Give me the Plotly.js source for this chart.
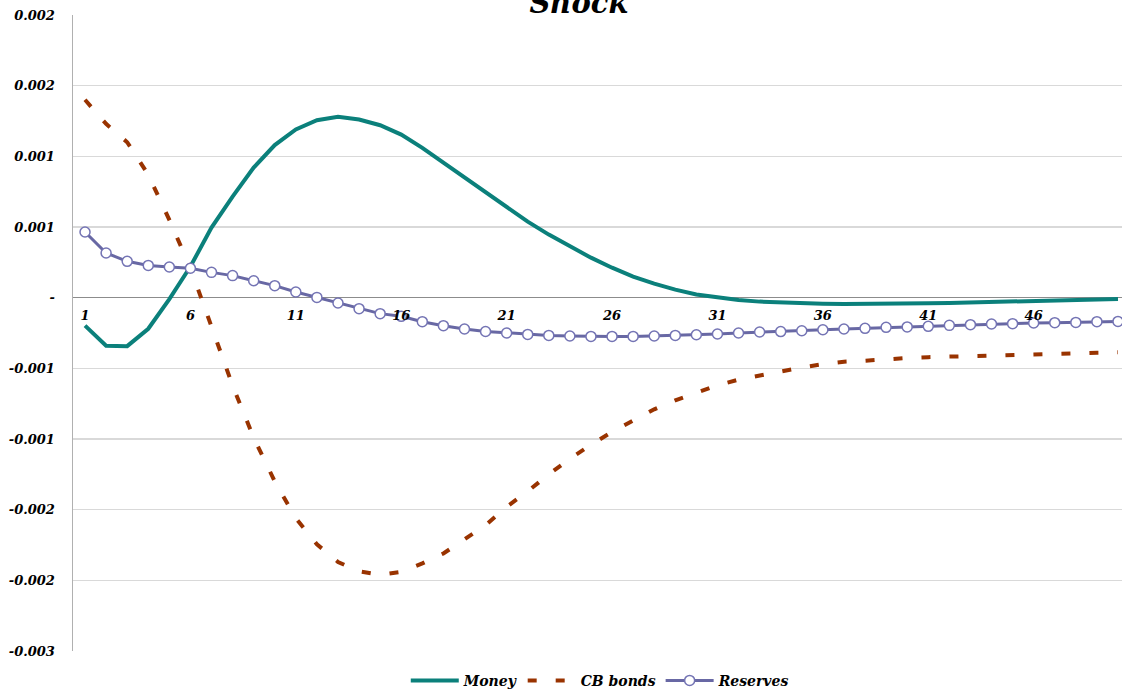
<!DOCTYPE html>
<html>
<head>
<meta charset="utf-8">
<script src="https://cdn.plot.ly/plotly-3.0.1.min.js"></script>
<style>html,body{margin:0;padding:0;background:#fff;}#chart{width:1122px;height:694px;}</style>
</head>
<body>
<div id="chart"></div>
<script>
const periods = Array.from({length: 50}, (_, i) => i + 1);

const money = [
  -0.000198, -0.00034, -0.000343, -0.00022, -0.00001, 0.00022, 0.000496, 0.000715, 0.00092, 0.00108,
  0.00119, 0.001255, 0.00128, 0.00126, 0.00122, 0.001154, 0.00106, 0.000956, 0.00085, 0.000743,
  0.000637, 0.000538, 0.000446, 0.000361, 0.000283, 0.000212, 0.000149, 0.000099, 0.000057, 0.000023,
  0.000002, -0.000016, -0.000028, -0.000035, -0.00004, -0.000043, -0.000045, -0.000045, -0.000044, -0.000042,
  -0.00004, -0.000037, -0.000034, -0.00003, -0.000027, -0.000023, -0.00002, -0.000016, -0.000013, -0.00001
];

const cbBonds = [
  0.0014, 0.00123, 0.0011, 0.00087, 0.00055, 0.00021, -0.000205, -0.000622, -0.00099, -0.0013,
  -0.00156, -0.001745, -0.00187, -0.001936, -0.00196, -0.00194, -0.00188, -0.00181, -0.00171, -0.00161,
  -0.00148, -0.00137, -0.00125, -0.00114, -0.00104, -0.00095, -0.00087, -0.00079, -0.000726, -0.00067,
  -0.00062, -0.00058, -0.00055, -0.000517, -0.000494, -0.00047, -0.000453, -0.000446, -0.000435, -0.000427,
  -0.000421, -0.000418, -0.000412, -0.000407, -0.000405, -0.000404, -0.0004, -0.000394, -0.000389, -0.000387
];

const reserves = [
  0.000465, 0.000316, 0.000257, 0.000228, 0.000217, 0.000208, 0.000179, 0.000156, 0.00012, 0.000085,
  0.00004, 0.000002, -0.000038, -0.000078, -0.000113, -0.000132, -0.00017, -0.000198, -0.000222, -0.000239,
  -0.00025, -0.00026, -0.000267, -0.000271, -0.000274, -0.000274, -0.000274, -0.000271, -0.000267, -0.000262,
  -0.000257, -0.00025, -0.000243, -0.00024, -0.000234, -0.000227, -0.000222, -0.000217, -0.00021, -0.000207,
  -0.000203, -0.000196, -0.000191, -0.000186, -0.000184, -0.000179, -0.000177, -0.000175, -0.00017, -0.000168
];

const xTickVals = [1, 6, 11, 16, 21, 26, 31, 36, 41, 46];
const yTickVals = [0.002, 0.0015, 0.001, 0.0005, 0, -0.0005, -0.001, -0.0015, -0.002, -0.0025];
const yTickText = ['0.002', '0.002', '0.001', '0.001', '-', '-0.001', '-0.001', '-0.002', '-0.002', '-0.003'];

const fontFam = 'DejaVu Serif, Liberation Serif, serif';
const tickFont = {family: fontFam, size: 13, color: '#000', weight: 'bold', style: 'italic'};

const traces = [
  {x: periods, y: money, name: 'Money', type: 'scatter', mode: 'lines',
   line: {color: '#0b807b', width: 4}},
  {x: periods, y: cbBonds, name: 'CB bonds', type: 'scatter', mode: 'lines',
   line: {color: '#993300', width: 4, dash: '9px,19px'}},
  {x: periods, y: reserves, name: 'Reserves', type: 'scatter', mode: 'lines+markers',
   line: {color: '#6868a4', width: 3},
   marker: {symbol: 'circle', size: 10, color: '#ffffff', line: {color: '#7474b4', width: 1.5}}}
];

const layout = {
  width: 1122, height: 694,
  paper_bgcolor: '#ffffff', plot_bgcolor: '#ffffff',
  margin: {l: 73, r: 0, t: 15, b: 43, pad: 0},
  showlegend: true,
  title: {text: 'Shock', xref: 'container', x: 0.516, yref: 'container', y: 0.9964, yanchor: 'middle',
          font: {family: fontFam, size: 29, color: '#000', weight: 'bold', style: 'italic'}},
  xaxis: {
    range: [0.43, 50.19], anchor: 'free', position: 0.5556,
    tickmode: 'array', tickvals: xTickVals, ticktext: xTickVals.map(String),
    showgrid: false, zeroline: false, showline: false, ticks: '',
    ticklabelstandoff: 8, tickfont: tickFont
  },
  yaxis: {
    range: [-0.0025, 0.002],
    tickmode: 'array', tickvals: yTickVals, ticktext: yTickText,
    showgrid: true, gridcolor: '#d9d9d9', gridwidth: 1.5,
    zeroline: true, zerolinecolor: '#8c8c8c', zerolinewidth: 1.2,
    showline: true, linecolor: '#b0b0b0', linewidth: 1.5, ticks: '',
    ticklabelstandoff: 14, tickfont: tickFont
  },
  legend: {orientation: 'h', xref: 'container', x: 0.535, xanchor: 'center', yref: 'container', y: 0.019, yanchor: 'middle',
           font: {family: fontFam, size: 14, color: '#000', weight: 'bold', style: 'italic'},
           itemwidth: 48, tracegroupgap: 0, bgcolor: 'rgba(0,0,0,0)'}
};

Plotly.newPlot('chart', traces, layout, {displayModeBar: false, staticPlot: true});
</script>
</body>
</html>
